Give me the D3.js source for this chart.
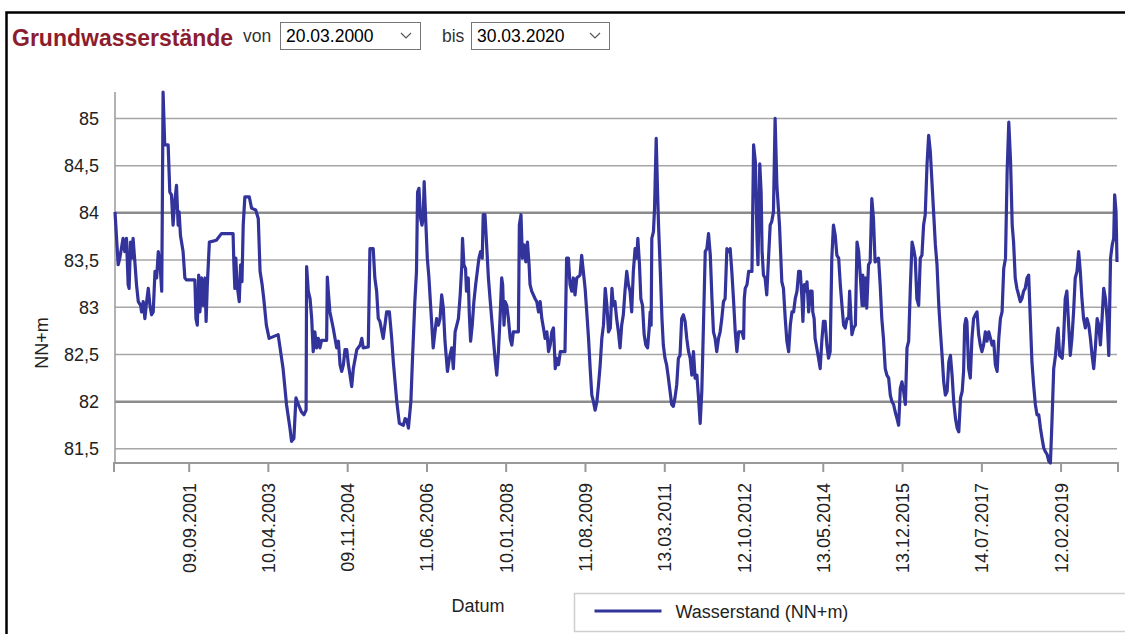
<!DOCTYPE html>
<html>
<head>
    <meta charset="utf-8">
    <title>Grundwasserstände</title>
    <script src="https://d3js.org/d3.v7.min.js"></script>
    <style>
        body { margin: 0; background: #fff; }
        svg text { font-family: "Liberation Sans", Arial, sans-serif; }
        .grid line { stroke: #a6a6a6; stroke-width: 1.5; }
        .grid line.strong { stroke: #8c8c8c; stroke-width: 2.5; }
        .level { fill: none; stroke: #33339c; stroke-width: 3.2; stroke-linejoin: round; }
    </style>
</head>
<body>
<svg id="chart" width="1125" height="634"></svg>
<script>
const dates = [
  "2000-03-20","2000-04-12","2000-04-24","2000-05-18","2000-05-30","2000-06-12","2000-06-24","2000-07-01",
  "2000-07-11","2000-07-21","2000-07-30","2000-08-12","2000-08-24","2000-09-06","2000-09-23","2000-09-30",
  "2000-10-12","2000-10-24","2000-11-06","2000-11-18","2000-11-30","2000-12-12","2000-12-24","2001-01-06",
  "2001-01-18","2001-01-30","2001-02-12","2001-02-24","2001-02-28","2001-03-06","2001-03-18","2001-04-12",
  "2001-04-24","2001-05-06","2001-05-18","2001-05-30","2001-06-12","2001-06-24","2001-07-01","2001-07-11",
  "2001-07-30","2001-08-12","2001-08-24","2001-10-24","2001-11-01","2001-11-11","2001-11-21","2001-11-30",
  "2001-12-12","2001-12-24","2002-01-06","2002-01-14","2002-01-23","2002-02-07","2002-03-30","2002-05-06",
  "2002-07-30","2002-08-05","2002-08-12","2002-08-19","2002-08-28","2002-09-13","2002-09-23","2002-10-03",
  "2002-10-12","2002-10-24","2002-11-25","2002-12-12","2003-01-11","2003-01-30","2003-02-12","2003-02-27",
  "2003-03-11","2003-03-30","2003-04-19","2003-06-24","2003-07-30","2003-08-24","2003-09-18","2003-09-30",
  "2003-10-17","2003-11-01","2003-11-18","2003-12-12","2003-12-29","2004-01-14","2004-01-18","2004-01-30",
  "2004-02-12","2004-02-24","2004-03-06","2004-03-18","2004-03-30","2004-04-12","2004-04-24","2004-05-06",
  "2004-06-12","2004-06-17","2004-06-24","2004-07-06","2004-07-30","2004-08-24","2004-09-06","2004-09-18",
  "2004-09-30","2004-10-12","2004-10-24","2004-11-06","2004-11-18","2004-11-30","2004-12-12","2004-12-24",
  "2005-01-18","2005-02-12","2005-02-24","2005-03-06","2005-04-12","2005-04-24","2005-05-18","2005-05-30",
  "2005-06-12","2005-06-24","2005-07-06","2005-07-30","2005-08-24","2005-09-13","2005-09-30","2005-10-12",
  "2005-11-06","2005-11-25","2005-12-24","2006-01-06","2006-01-18","2006-01-30","2006-02-17","2006-03-01",
  "2006-03-18","2006-03-30","2006-04-07","2006-04-17","2006-04-29","2006-05-09","2006-05-18","2006-05-25",
  "2006-06-07","2006-06-17","2006-06-29","2006-07-11","2006-07-30","2006-08-12","2006-08-24","2006-09-06",
  "2006-09-18","2006-09-30","2006-10-12","2006-10-24","2006-11-11","2006-11-25","2006-12-12","2006-12-24",
  "2007-01-06","2007-01-30","2007-02-12","2007-02-24","2007-03-01","2007-03-11","2007-03-23","2007-03-30",
  "2007-04-12","2007-04-19","2007-04-29","2007-05-11","2007-05-23","2007-06-05","2007-06-17","2007-06-29",
  "2007-07-11","2007-07-23","2007-07-30","2007-08-12","2007-08-24","2007-09-06","2007-09-18","2007-09-30",
  "2007-10-12","2007-10-24","2007-11-06","2007-11-18","2007-11-30","2007-12-12","2007-12-19","2007-12-29",
  "2008-01-06","2008-01-18","2008-01-30","2008-02-12","2008-02-24","2008-03-06","2008-04-12","2008-04-19",
  "2008-05-01","2008-05-11","2008-05-23","2008-06-05","2008-06-17","2008-06-29","2008-07-06","2008-07-18",
  "2008-08-12","2008-08-24","2008-09-06","2008-09-18","2008-09-30","2008-10-12","2008-10-24","2008-11-06",
  "2008-11-18","2008-11-30","2008-12-12","2008-12-24","2009-01-06","2009-01-18","2009-01-30","2009-02-12",
  "2009-03-18","2009-03-30","2009-04-12","2009-04-24","2009-05-06","2009-05-18","2009-05-30","2009-06-12",
  "2009-07-06","2009-07-18","2009-07-30","2009-08-12","2009-08-24","2009-09-06","2009-09-18","2009-09-30",
  "2009-10-12","2009-10-24","2009-11-06","2009-11-18","2009-11-30","2009-12-12","2009-12-24","2010-01-06",
  "2010-01-18","2010-01-30","2010-02-12","2010-02-24","2010-03-06","2010-03-18","2010-03-30","2010-04-12",
  "2010-04-24","2010-05-06","2010-05-18","2010-05-30","2010-06-12","2010-06-24","2010-07-06","2010-07-18",
  "2010-07-30","2010-08-12","2010-08-24","2010-09-01","2010-09-13","2010-09-23","2010-10-05","2010-10-17",
  "2010-10-29","2010-11-11","2010-11-23","2010-11-30","2010-12-07","2010-12-12","2010-12-24","2011-01-01",
  "2011-01-13","2011-01-23","2011-01-30","2011-02-12","2011-02-24","2011-03-06","2011-03-18","2011-03-30",
  "2011-04-12","2011-04-24","2011-05-06","2011-05-18","2011-05-30","2011-06-12","2011-06-24","2011-07-06",
  "2011-07-18","2011-07-30","2011-08-12","2011-08-24","2011-09-06","2011-09-18","2011-09-30","2011-10-12",
  "2011-10-24","2011-11-06","2011-11-18","2011-11-30","2011-12-12","2011-12-24","2012-01-06","2012-01-18",
  "2012-01-30","2012-02-12","2012-02-24","2012-03-06","2012-03-18","2012-03-30","2012-04-12","2012-04-24",
  "2012-05-06","2012-05-18","2012-05-30","2012-06-12","2012-06-24","2012-07-06","2012-07-18","2012-07-30",
  "2012-08-12","2012-08-24","2012-09-06","2012-09-30","2012-10-12","2012-10-17","2012-10-24","2012-11-06",
  "2012-11-18","2012-12-12","2012-12-24","2013-01-06","2013-01-18","2013-01-25","2013-02-07","2013-02-17",
  "2013-02-24","2013-03-06","2013-03-18","2013-03-30","2013-04-12","2013-04-24","2013-05-06","2013-05-18",
  "2013-05-30","2013-06-12","2013-07-01","2013-07-18","2013-07-30","2013-08-12","2013-08-24","2013-09-06",
  "2013-09-18","2013-09-30","2013-10-12","2013-10-24","2013-11-06","2013-11-18","2013-11-30","2013-12-12",
  "2013-12-19","2013-12-29","2014-01-11","2014-01-18","2014-01-30","2014-02-12","2014-02-24","2014-03-01",
  "2014-03-11","2014-03-18","2014-03-30","2014-04-12","2014-04-24","2014-05-06","2014-05-18","2014-05-30",
  "2014-06-12","2014-06-24","2014-07-06","2014-07-18","2014-07-30","2014-08-12","2014-08-24","2014-09-06",
  "2014-09-18","2014-09-30","2014-10-12","2014-10-24","2014-11-06","2014-11-18","2014-11-25","2014-12-05",
  "2014-12-12","2014-12-24","2015-01-06","2015-01-18","2015-01-30","2015-02-12","2015-02-24","2015-03-01",
  "2015-03-11","2015-03-21","2015-03-30","2015-04-12","2015-04-24","2015-05-06","2015-05-18","2015-05-30",
  "2015-06-24","2015-07-06","2015-07-18","2015-07-30","2015-08-12","2015-08-24","2015-09-06","2015-09-18",
  "2015-09-30","2015-10-12","2015-10-24","2015-11-06","2015-11-18","2015-11-30","2015-12-12","2015-12-24",
  "2016-01-06","2016-01-18","2016-01-30","2016-02-12","2016-02-24","2016-03-06","2016-03-18","2016-03-30",
  "2016-04-12","2016-04-24","2016-05-06","2016-05-18","2016-05-30","2016-06-12","2016-06-24","2016-07-06",
  "2016-07-18","2016-07-30","2016-08-12","2016-08-24","2016-09-06","2016-09-18","2016-09-30","2016-10-12",
  "2016-10-24","2016-11-06","2016-11-18","2016-11-30","2016-12-12","2016-12-24","2017-01-06","2017-01-18",
  "2017-01-30","2017-02-12","2017-02-24","2017-03-06","2017-03-14","2017-03-23","2017-03-30","2017-04-12",
  "2017-04-24","2017-05-06","2017-05-18","2017-05-30","2017-06-12","2017-06-24","2017-07-06","2017-07-18",
  "2017-07-30","2017-08-12","2017-08-24","2017-09-06","2017-09-18","2017-09-30","2017-10-12","2017-10-24",
  "2017-11-06","2017-11-18","2017-11-30","2017-12-12","2017-12-24","2018-01-06","2018-01-18","2018-01-30",
  "2018-02-12","2018-02-24","2018-03-06","2018-03-18","2018-03-30","2018-04-12","2018-04-24","2018-05-06",
  "2018-05-18","2018-05-30","2018-06-12","2018-06-24","2018-07-06","2018-07-18","2018-07-30","2018-08-12",
  "2018-08-24","2018-09-06","2018-09-18","2018-09-30","2018-10-12","2018-10-24","2018-11-06","2018-11-18",
  "2018-11-30","2018-12-12","2018-12-24","2019-01-06","2019-01-18","2019-01-25","2019-02-05","2019-02-24",
  "2019-03-06","2019-03-18","2019-03-30","2019-04-12","2019-04-24","2019-05-06","2019-05-18","2019-05-30",
  "2019-06-12","2019-06-24","2019-07-06","2019-07-18","2019-07-30","2019-08-12","2019-08-24","2019-09-06",
  "2019-09-18","2019-09-30","2019-10-12","2019-10-24","2019-11-06","2019-11-18","2019-11-30","2019-12-12",
  "2019-12-24","2020-01-06","2020-01-18","2020-01-30","2020-02-12","2020-02-24","2020-03-06","2020-03-13",
  "2020-03-23","2020-03-30"
];

const levels = [
  84.01,83.45,83.52,83.73,83.59,83.73,83.24,83.20,
  83.69,83.52,83.73,83.48,83.24,83.06,83.02,82.95,
  83.06,82.88,83.06,83.20,83.02,82.92,82.95,83.38,
  83.31,83.59,83.45,83.17,83.94,85.28,84.72,84.72,
  84.22,84.19,83.87,84.12,84.29,83.87,84.01,83.76,
  83.59,83.31,83.29,83.29,82.88,82.81,83.34,82.95,
  83.31,83.02,83.31,82.85,83.24,83.69,83.71,83.78,
  83.78,83.45,83.20,83.52,83.24,83.06,83.45,83.27,
  83.87,84.17,84.17,84.05,84.03,83.94,83.38,83.24,
  83.09,82.81,82.67,82.71,82.35,81.97,81.72,81.58,
  81.61,82.04,81.97,81.89,81.86,81.91,83.43,83.17,
  83.09,82.88,82.53,82.74,82.57,82.67,82.57,82.65,
  82.65,83.32,83.17,82.95,82.78,82.57,82.64,82.39,
  82.32,82.39,82.55,82.55,82.39,82.28,82.16,82.35,
  82.55,82.60,82.67,82.57,82.58,83.62,83.62,83.31,
  83.17,82.88,82.85,82.67,82.95,82.95,82.67,82.42,
  82.00,81.77,81.75,81.82,81.81,81.72,82.00,82.46,
  83.06,83.38,84.22,84.26,83.94,83.87,83.94,84.33,
  83.87,83.52,83.31,83.02,82.57,82.74,82.88,82.81,
  82.88,83.13,82.99,82.64,82.32,82.46,82.57,82.35,
  82.74,82.88,83.13,83.45,83.73,83.45,83.41,83.17,
  83.31,82.95,82.64,82.81,83.06,83.24,83.38,83.52,
  83.59,83.52,83.98,83.98,83.66,83.31,83.09,82.88,
  82.67,82.46,82.28,82.53,82.88,83.31,83.24,82.81,
  83.06,83.02,82.88,82.67,82.60,82.74,82.74,83.87,
  83.98,83.52,83.66,83.48,83.69,83.45,83.24,83.17,
  83.09,83.06,82.95,83.06,82.88,82.78,82.67,82.74,
  82.53,82.60,82.74,82.78,82.35,82.46,82.39,82.53,
  82.53,83.52,83.52,83.24,83.17,83.31,83.13,83.31,
  83.34,83.55,83.38,83.20,82.95,82.67,82.35,82.07,
  82.00,81.91,82.00,82.18,82.39,82.67,82.81,83.20,
  83.02,82.74,82.78,83.20,83.02,83.06,82.88,82.74,
  82.57,82.81,82.92,83.17,83.38,83.24,83.17,82.95,
  83.38,83.62,83.52,83.73,83.45,83.09,83.02,82.71,
  82.60,82.57,82.78,82.95,82.81,83.73,83.80,84.05,
  84.79,84.22,83.87,83.38,82.88,82.60,82.46,82.39,
  82.25,82.11,81.97,81.95,82.04,82.18,82.46,82.49,
  82.88,82.92,82.85,82.67,82.53,82.46,82.28,82.53,
  82.25,82.28,82.04,81.77,82.11,82.81,83.59,83.62,
  83.78,83.55,83.09,82.74,82.67,82.53,82.67,82.74,
  82.88,83.06,83.09,83.62,83.59,83.62,83.38,83.09,
  82.74,82.53,82.74,82.74,82.67,83.09,83.20,83.24,
  83.38,83.38,84.72,84.54,83.73,83.45,84.52,84.22,
  83.59,83.34,83.31,83.13,83.52,83.87,83.91,84.01,
  85.00,84.29,83.87,83.27,83.20,82.88,82.64,82.53,
  82.81,82.95,82.95,83.09,83.17,83.38,83.38,83.09,
  82.85,83.24,83.17,83.27,82.95,83.17,83.17,82.95,
  82.88,82.67,82.57,82.46,82.35,82.64,82.85,82.85,
  82.60,82.46,82.53,83.52,83.87,83.76,83.55,83.52,
  83.24,83.02,82.81,82.78,82.88,82.88,83.17,82.88,
  82.71,82.78,82.81,83.69,83.59,83.31,83.02,83.34,
  83.02,83.31,82.99,83.45,83.48,84.15,83.94,83.48,
  83.52,83.24,82.88,82.67,82.35,82.28,82.25,82.07,
  82.00,81.97,81.89,81.82,81.75,82.14,82.21,82.11,
  81.97,82.57,82.64,83.24,83.69,83.62,83.52,83.09,
  83.02,83.52,83.55,83.87,83.98,84.51,84.82,84.65,
  84.33,84.01,83.66,83.45,83.02,82.74,82.49,82.21,
  82.07,82.11,82.42,82.49,82.28,82.00,81.82,81.72,
  81.68,82.04,82.11,82.32,82.81,82.88,82.85,82.35,
  82.25,82.67,82.88,82.92,82.95,82.71,82.60,82.53,
  82.60,82.74,82.64,82.74,82.67,82.60,82.64,82.39,
  82.32,82.67,82.88,82.95,83.41,83.52,84.44,84.96,
  84.54,83.87,83.69,83.31,83.20,83.13,83.06,83.09,
  83.17,83.20,83.31,83.34,82.88,82.42,82.18,81.97,
  81.86,81.86,81.72,81.61,81.51,81.47,81.44,81.37,
  81.35,81.82,82.35,82.49,82.71,82.78,82.49,82.46,
  82.67,83.09,83.17,82.81,82.49,82.67,82.95,83.31,
  83.38,83.59,83.38,83.09,82.88,82.78,82.88,82.81,
  82.67,82.49,82.35,82.57,82.88,82.81,82.60,82.88,
  83.20,83.09,82.88,82.49,83.52,83.66,83.73,84.19,
  84.01,83.48
];

// Achsen
const yTicks = [81.5, 82, 82.5, 83, 83.5, 84, 84.5, 85];
const strongTicks = [82, 84];
const xTickLabels = ["09.09.2001","10.04.2003","09.11.2004","11.06.2006","10.01.2008","11.08.2009",
                     "13.03.2011","12.10.2012","13.05.2014","13.12.2015","14.07.2017","12.02.2019"];
const dateRange = ["20.03.2000", "30.03.2020"];
const yRange = [81.35, 85.28];

const title = "Grundwasserstände";
const xTitle = "Datum";
const yTitle = "NN+m";
const seriesName = "Wasserstand (NN+m)";

const parseIso = d3.timeParse("%Y-%m-%d");
const parseDe = d3.timeParse("%d.%m.%Y");
const formatDe = d3.timeFormat("%d.%m.%Y");

const data = dates.map((d, i) => ({ date: parseIso(d), value: levels[i] }));

const svg = d3.select("#chart");
const plot = { left: 115, right: 1117, top: 92, bottom: 463 };

const x = d3.scaleTime()
    .domain(dateRange.map(parseDe))
    .range([plot.left, plot.right]);
const y = d3.scaleLinear()
    .domain(yRange)
    .range([plot.bottom, plot.top]);

// Rahmen
svg.append("path")
    .attr("d", "M6.5,640 V12.5 H1130")
    .attr("fill", "none")
    .attr("stroke", "#000")
    .attr("stroke-width", 2.5);

// Kopfzeile mit Datumsauswahl
svg.append("text")
    .attr("x", 12).attr("y", 46)
    .attr("font-size", 23).attr("font-weight", "bold")
    .attr("fill", "#8c1d2f")
    .text(title);

function dropdown(label, lx, bx, bw, value) {
    svg.append("text").attr("x", lx).attr("y", 42)
        .attr("font-size", 17.5).attr("fill", "#333").text(label);
    svg.append("rect").attr("x", bx + 0.5).attr("y", 22.5)
        .attr("width", bw).attr("height", 27)
        .attr("fill", "#fff").attr("stroke", "#767676");
    svg.append("text").attr("x", bx + 6).attr("y", 42)
        .attr("font-size", 17.5).attr("fill", "#000").text(value);
    const cx = bx + bw - 14;
    svg.append("path")
        .attr("d", `M${cx - 5},33 L${cx},38 L${cx + 5},33`)
        .attr("fill", "none").attr("stroke", "#555").attr("stroke-width", 1.2);
}
dropdown("von", 243, 280, 140, dateRange[0]);
dropdown("bis", 442, 471, 138, dateRange[1]);

// Gitternetz
svg.append("g").attr("class", "grid")
    .selectAll("line")
    .data(yTicks)
    .join("line")
    .attr("class", d => strongTicks.includes(d) ? "strong" : null)
    .attr("x1", plot.left).attr("x2", plot.right)
    .attr("y1", d => y(d)).attr("y2", d => y(d));

// Y-Achse
svg.append("line")
    .attr("x1", plot.left).attr("x2", plot.left)
    .attr("y1", plot.top).attr("y2", plot.bottom)
    .attr("stroke", "#999").attr("stroke-width", 1.5);

svg.append("g")
    .selectAll("text")
    .data(yTicks)
    .join("text")
    .attr("x", 99)
    .attr("y", d => y(d))
    .attr("dy", "0.36em")
    .attr("text-anchor", "end")
    .attr("font-size", 18)
    .attr("fill", "#222")
    .text(d => String(d).replace(".", ","));

svg.append("text")
    .attr("transform", "translate(42,343) rotate(-90)")
    .attr("text-anchor", "middle")
    .attr("dy", "0.36em")
    .attr("font-size", 18)
    .attr("fill", "#222")
    .text(yTitle);

// X-Achse
const xTicks = xTickLabels.map(parseDe);
const xAxis = d3.axisBottom(x)
    .tickValues(xTicks)
    .tickSize(9)
    .tickFormat(formatDe);

const gx = svg.append("g")
    .attr("transform", `translate(0,${plot.bottom})`)
    .call(xAxis);
gx.select(".domain").attr("stroke", "#999").attr("stroke-width", 2)
    .attr("d", `M${plot.left - 1},9 V0 H${plot.right + 1} V9`);
gx.selectAll(".tick line").attr("stroke", "#999").attr("stroke-width", 2);
gx.selectAll(".tick text")
    .attr("font-family", null)
    .attr("font-size", 18)
    .attr("fill", "#222")
    .attr("text-anchor", "end")
    .attr("transform", "rotate(-90)")
    .attr("x", -20)
    .attr("y", 0)
    .attr("dy", "0.36em");

svg.append("text")
    .attr("x", 478).attr("y", 612)
    .attr("text-anchor", "middle")
    .attr("font-size", 18)
    .attr("fill", "#222")
    .text(xTitle);

// Ganglinie
const line = d3.line()
    .x(d => x(d.date))
    .y(d => y(d.value));

svg.append("path")
    .datum(data)
    .attr("class", "level")
    .attr("d", line);

// Legende
const legend = svg.append("g").attr("transform", "translate(574.5,593.5)");
legend.append("rect")
    .attr("width", 560).attr("height", 38)
    .attr("fill", "#fff").attr("stroke", "#cfcfcf").attr("stroke-width", 1.5);
legend.append("line")
    .attr("x1", 20).attr("x2", 87).attr("y1", 17.5).attr("y2", 17.5)
    .attr("stroke", "#33339c").attr("stroke-width", 3);
legend.append("text")
    .attr("x", 101).attr("y", 24)
    .attr("font-size", 18)
    .attr("fill", "#222")
    .text(seriesName);
</script>
</body>
</html>
